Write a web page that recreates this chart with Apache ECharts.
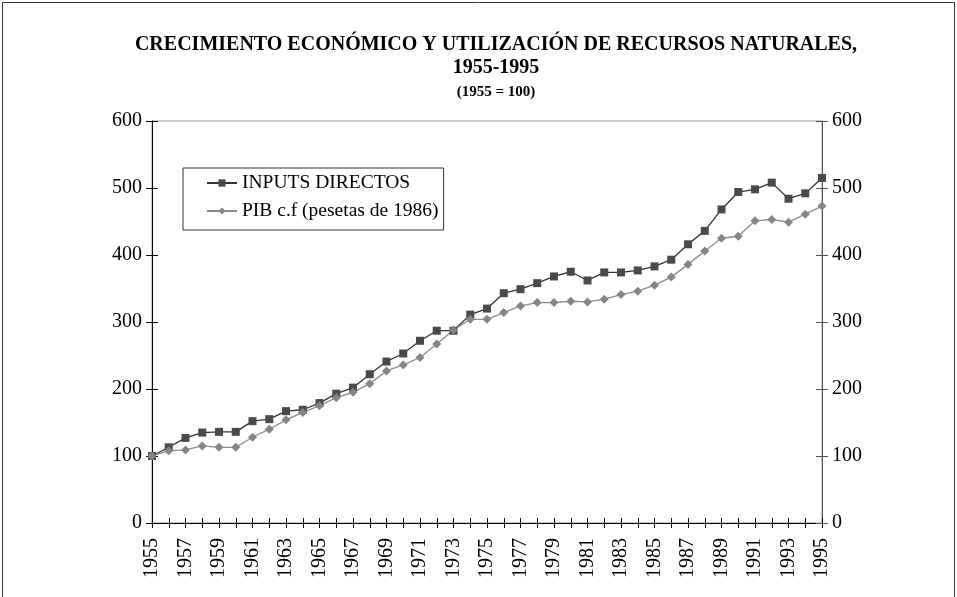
<!DOCTYPE html>
<html>
<head>
<meta charset="utf-8">
<script src="https://cdn.jsdelivr.net/npm/echarts@6/dist/echarts.min.js"></script>
<style>
  html, body { margin: 0; padding: 0; background: #fff; }
  #chart { width: 957px; height: 597px; }
</style>
</head>
<body>
<div id="chart"></div>
<script>
// datos (1955 = 100)
var years = [];
for (var y = 1955; y <= 1995; y++) { years.push(String(y)); }

var inputsDirectos = [100, 113, 127, 135, 136, 136, 152, 155, 167, 169, 179, 193, 202, 222, 241, 253, 272, 287, 287, 311,
    320, 343, 349, 358, 368, 375, 362, 374, 374, 377, 383, 393, 416, 436, 468, 494, 498, 508, 484, 492, 515];
var pib = [100, 108, 109, 115, 113, 113, 128, 140, 154, 165, 175, 187, 195, 208, 227, 236, 247, 267, 288, 304,
    304, 314, 324, 329, 329, 331, 330, 334, 341, 346, 355, 367, 386, 406, 425, 428, 451, 453, 449, 461, 473];

var yTicks = [0, 100, 200, 300, 400, 500, 600];

(function () {
    var myChart = echarts.init(document.getElementById("chart"));
    var serif = "Liberation Serif";

    // eje y base, se reutiliza para los ejes de ticks interiores
    function yAxisBase(pos, showLabel, inside, lineColor) {
        return {
            type: "value",
            position: pos,
            min: yTicks[0],
            max: yTicks[yTicks.length - 1],
            interval: 100,
            splitLine: { show: false },
            axisLine: { show: showLabel, lineStyle: { color: lineColor, width: 1 } },
            axisTick: { show: true, inside: inside, length: 6, lineStyle: { color: lineColor } },
            axisLabel: {
                show: showLabel,
                color: "#000",
                fontFamily: serif,
                fontSize: 20,
                margin: 10
            }
        };
    }

    var option = {
        backgroundColor: "#fff",
        animation: false,
        title: [
            {
                text: "CRECIMIENTO ECONÓMICO Y UTILIZACIÓN DE RECURSOS NATURALES,",
                left: 491, top: 30, textAlign: "center",
                textStyle: { fontFamily: serif, fontWeight: "bold", fontSize: 20, color: "#000" }
            },
            {
                text: "1955-1995",
                left: 491, top: 53, textAlign: "center",
                textStyle: { fontFamily: serif, fontWeight: "bold", fontSize: 20, color: "#000" }
            },
            {
                text: "(1955 = 100)",
                left: 491, top: 80, textAlign: "center",
                textStyle: { fontFamily: serif, fontWeight: "bold", fontSize: 15, color: "#000" }
            }
        ],
        // marco exterior
        graphic: [
            {
                type: "rect",
                shape: { x: 2.5, y: 2.5, width: 952, height: 600 },
                style: { fill: "none", stroke: "#333", lineWidth: 1 },
                silent: true
            }
        ],
        legend: {
            left: 183,
            top: 168,
            orient: "vertical",
            itemWidth: 30,
            itemHeight: 9,
            itemGap: 8,
            padding: [5, 5, 9, 23],
            borderColor: "#333",
            borderWidth: 1,
            textStyle: { fontFamily: serif, fontSize: 19.5, color: "#000" },
            data: ["INPUTS DIRECTOS", "PIB c.f (pesetas de 1986)"]
        },
        grid: {
            left: 152,
            right: 135,
            top: 121,
            bottom: 74,
            show: true,
            borderColor: "#999",
            borderWidth: 1
        },
        xAxis: [
            {
                type: "category",
                data: years,
                boundaryGap: false,
                axisLine: { lineStyle: { color: "#000" } },
                axisTick: { show: true, interval: 0, length: 5, lineStyle: { color: "#000" } },
                axisLabel: {
                    interval: 1,
                    rotate: 90,
                    color: "#000",
                    fontFamily: serif,
                    fontSize: 20,
                    margin: 15
                },
                splitLine: { show: false }
            },
            {
                type: "category",
                data: years,
                boundaryGap: false,
                position: "bottom",
                axisLine: { show: false },
                axisTick: { show: true, inside: true, interval: 0, length: 5, lineStyle: { color: "#000" } },
                axisLabel: { show: false },
                splitLine: { show: false }
            }
        ],
        yAxis: [
            yAxisBase("left", true, false, "#000"),
            yAxisBase("right", true, false, "#555"),
            yAxisBase("left", false, true, "#000"),
            yAxisBase("right", false, true, "#555")
        ],
        series: [
            {
                name: "INPUTS DIRECTOS",
                type: "line",
                data: inputsDirectos,
                symbol: "rect",
                symbolSize: 8,
                lineStyle: { color: "#333", width: 1.3 },
                itemStyle: { color: "#4a4a4a" }
            },
            {
                name: "PIB c.f (pesetas de 1986)",
                type: "line",
                data: pib,
                symbol: "diamond",
                symbolSize: 9,
                lineStyle: { color: "#8c8c8c", width: 1.3 },
                itemStyle: { color: "#858585" }
            }
        ]
    };

    myChart.setOption(option);
    window.addEventListener("resize", function () {
        myChart.resize();
    });
})();
</script>
</body>
</html>
